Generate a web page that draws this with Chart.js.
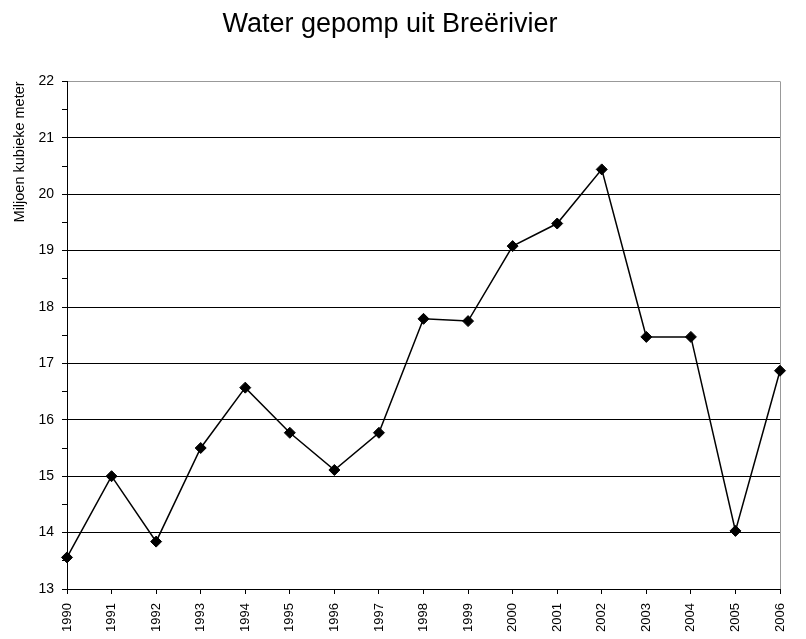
<!DOCTYPE html>
<html>
<head>
<meta charset="utf-8">
<script src="https://cdn.jsdelivr.net/npm/chart.js@4.4.0/dist/chart.umd.min.js"></script>
<style>
  html, body { margin: 0; padding: 0; background: #fff; }
  #wrap { width: 806px; height: 639px; }
</style>
</head>
<body>
<div id="wrap"><canvas id="waterChart" width="806" height="639"></canvas></div>
<script>
// data
const years = ['1990', '1991', '1992', '1993', '1994', '1995', '1996', '1997', '1998',
  '1999', '2000', '2001', '2002', '2003', '2004', '2005', '2006'];
const pumped = [13.56, 15.0, 13.84, 15.5, 16.57, 15.77, 15.11, 15.77, 17.79,
  17.75, 19.08, 19.48, 20.44, 17.47, 17.47, 14.03, 16.87];
const yMin = 13;
const yMax = 22;

const font = '"Liberation Sans", Arial, sans-serif';

const ctx = document.getElementById('waterChart').getContext('2d');
new Chart(ctx, {
  type: 'line',
  data: {
    labels: years,
    datasets: [{
      data: pumped,
      borderColor: '#000',
      borderWidth: 1.5,
      pointStyle: 'rectRot',
      pointRadius: 5.5,
      pointBackgroundColor: '#000',
      pointBorderColor: '#000',
      pointBorderWidth: 1,
      tension: 0,
      clip: false
    }]
  },
  options: {
    responsive: false,
    animation: false,
    layout: { padding: { left: 0, right: 26, top: 0, bottom: 0 } },
    plugins: {
      legend: { display: false },
      tooltip: { enabled: false },
      title: {
        display: true,
        text: 'Water gepomp uit Breërivier',
        color: '#000',
        font: { family: font, size: 27, weight: 'normal' },
        padding: { top: 8, bottom: 41 }
      }
    },
    scales: {
      x: {
        offset: false,
        grid: {
          drawOnChartArea: true,
          color: c => c.index === years.length - 1 ? '#999' : 'transparent',
          tickColor: '#000',
          tickLength: 5
        },
        border: { display: true, color: '#000', width: 1 },
        ticks: {
          color: '#000',
          minRotation: 90,
          maxRotation: 90,
          autoSkip: false,
          padding: 9,
          font: { family: font, size: 13 }
        },
        afterFit: s => { s.height = 50; }
      },
      y: {
        min: yMin,
        max: yMax,
        grid: {
          color: c => {
            const v = c.tick.value;
            if (v === yMax) return '#999';
            return Number.isInteger(v) ? '#000' : 'transparent';
          },
          tickColor: '#000',
          tickLength: 5
        },
        border: { display: true, color: '#000', width: 1 },
        ticks: {
          stepSize: 0.5,
          color: '#000',
          padding: 8,
          font: { family: font, size: 14 },
          callback: v => Number.isInteger(v) ? String(v) : ''
        },
        title: {
          display: true,
          text: 'Miljoen kubieke meter',
          align: 'end',
          color: '#000',
          font: { family: font, size: 14.5 },
          padding: { top: 11, bottom: 0 }
        },
        afterFit: s => { s.width = 67; }
      }
    }
  }
});
</script>
</body>
</html>
